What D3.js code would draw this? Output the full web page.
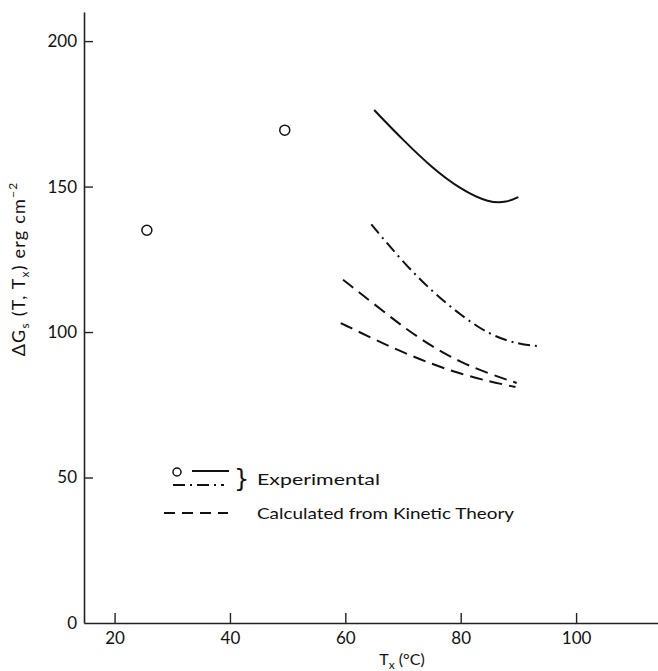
<!DOCTYPE html>
<meta charset="utf-8">
<script src="https://d3js.org/d3.v7.min.js"></script>
<style>
  body { margin: 0; background: #fff; }
  text { font-family: Lato, "DejaVu Sans", sans-serif; fill: #111; }
</style>
<div id="chart"></div>
<script>

// data
var xTicks = [20, 40, 60, 80, 100];
var yTicks = [0, 50, 100, 150, 200];

// experimental points (circles)
var pointsX = [25.6, 49.5];
var pointsY = [135, 169.4];

// experimental, solid curve
var solidX = [65, 70, 75, 80, 85, 88, 90];
var solidY = [176.3, 166, 156.5, 149, 144.3, 144.6, 146.4];

// experimental, dash-dot curve
var dashDotX = [64.5, 70, 75, 80, 85, 90, 93.2];
var dashDotY = [137, 124, 114, 105.8, 99, 95.8, 95.2];

// kinetic theory, upper dashed curve
var dashedAX = [59.6, 65, 70, 75, 80, 85, 89.7];
var dashedAY = [118, 109.6, 101.8, 95, 89.6, 85.6, 82.5];

// kinetic theory, lower dashed curve
var dashedBX = [59.2, 65, 70, 75, 80, 85, 89.5];
var dashedBY = [103.1, 97.5, 93, 89, 85.6, 83, 81.1];

var legendLabels = ["Experimental", "Calculated from Kinetic Theory"];

// set the dimensions and margins of the graph
var margin = {top: 12, right: 0, bottom: 48, left: 84},
    width = 658 - margin.left - margin.right,
    height = 671 - margin.top - margin.bottom;

var svg = d3.select("#chart")
  .append("svg")
    .attr("width", 658)
    .attr("height", 671)
  .append("g")
    .attr("transform", "translate(" + margin.left + "," + margin.top + ")");

var x = d3.scaleLinear().domain([14.7, 114.2]).range([0, width]);
var y = d3.scaleLinear().domain([0, 210]).range([height, 0]);

// X axis (ticks point up into the plot)
var xAxis = svg.append("g")
  .attr("transform", "translate(0," + height + ")")
  .call(d3.axisBottom(x).tickValues(xTicks).tickSizeInner(-10).tickSizeOuter(0).tickPadding(9));

// Y axis (ticks point right into the plot)
var yAxis = svg.append("g")
  .call(d3.axisLeft(y).tickValues(yTicks).tickSizeInner(-9).tickSizeOuter(0).tickPadding(7));

[xAxis, yAxis].forEach(function(a) {
  a.select(".domain").attr("stroke", "#222").attr("stroke-width", 1.6);
  a.selectAll(".tick line").attr("stroke", "#222").attr("stroke-width", 1.4);
  a.selectAll(".tick text").style("font-size", "17px").style("font-family", "Lato, sans-serif").attr("fill", "#111");
});
yAxis.selectAll(".tick").filter(function(d) { return d === 0; }).select("line").remove();

// curves
var line = d3.line()
  .x(function(d) { return x(d[0]); })
  .y(function(d) { return y(d[1]); })
  .curve(d3.curveBasis);

var curves = [
  {xs: solidX, ys: solidY, dash: null},
  {xs: dashDotX, ys: dashDotY, dash: "12,5,2,5"},
  {xs: dashedAX, ys: dashedAY, dash: "13,7"},
  {xs: dashedBX, ys: dashedBY, dash: "13,7"}
];

svg.selectAll("path.curve")
  .data(curves)
  .enter()
  .append("path")
    .attr("class", "curve")
    .attr("d", function(c) { return line(d3.zip(c.xs, c.ys)); })
    .attr("fill", "none")
    .attr("stroke", "#111")
    .attr("stroke-width", 2)
    .attr("stroke-dasharray", function(c) { return c.dash; });

// open circles
svg.selectAll("circle.pt")
  .data(d3.zip(pointsX, pointsY))
  .enter()
  .append("circle")
    .attr("class", "pt")
    .attr("cx", function(d) { return x(d[0]); })
    .attr("cy", function(d) { return y(d[1]); })
    .attr("r", 5)
    .attr("fill", "none")
    .attr("stroke", "#111")
    .attr("stroke-width", 1.5);

// legend (page coordinates)
var root = d3.select("#chart svg");
var leg = root.append("g");
leg.append("circle").attr("cx", 177).attr("cy", 472).attr("r", 4)
  .attr("fill", "none").attr("stroke", "#111").attr("stroke-width", 1.5);
leg.append("line").attr("x1", 192).attr("x2", 229).attr("y1", 471).attr("y2", 471)
  .attr("stroke", "#111").attr("stroke-width", 2.2);
leg.append("line").attr("x1", 173).attr("x2", 224).attr("y1", 485).attr("y2", 485)
  .attr("stroke", "#111").attr("stroke-width", 2.2).attr("stroke-dasharray", "12,5,2,5");
leg.append("line").attr("x1", 164).attr("x2", 228).attr("y1", 513).attr("y2", 513)
  .attr("stroke", "#111").attr("stroke-width", 2.2).attr("stroke-dasharray", "11,7");
leg.append("text").attr("x", 234).attr("y", 487).style("font-size", "24px")
  .style("font-family", "DejaVu Sans").text("}");
leg.append("text").attr("x", 257).attr("y", 485).style("font-size", "16px")
  .attr("textLength", 123).attr("lengthAdjust", "spacingAndGlyphs").text(legendLabels[0]);
leg.append("text").attr("x", 257).attr("y", 519).style("font-size", "16px")
  .attr("textLength", 257).attr("lengthAdjust", "spacingAndGlyphs").text(legendLabels[1]);

// x axis title
var xt = root.append("text").attr("x", 402).attr("y", 665).attr("text-anchor", "middle")
  .style("font-size", "16px");
xt.append("tspan").text("T");
xt.append("tspan").attr("dy", 4).style("font-size", "12px").text("x");
xt.append("tspan").attr("dy", -4).text(" (°C)");

// y axis title
var yt = root.append("text")
  .attr("transform", "translate(25,269) rotate(-90)")
  .attr("text-anchor", "middle")
  .style("font-size", "18px")
  .style("letter-spacing", "1.2px");
yt.append("tspan").text("ΔG");
yt.append("tspan").attr("dy", 4).style("font-size", "12px").text("s");
yt.append("tspan").attr("dy", -4).text(" (T, T");
yt.append("tspan").attr("dy", 4).style("font-size", "12px").text("x");
yt.append("tspan").attr("dy", -4).text(")  erg cm");
yt.append("tspan").attr("dy", -8).style("font-size", "12px").text("−2");

</script>
